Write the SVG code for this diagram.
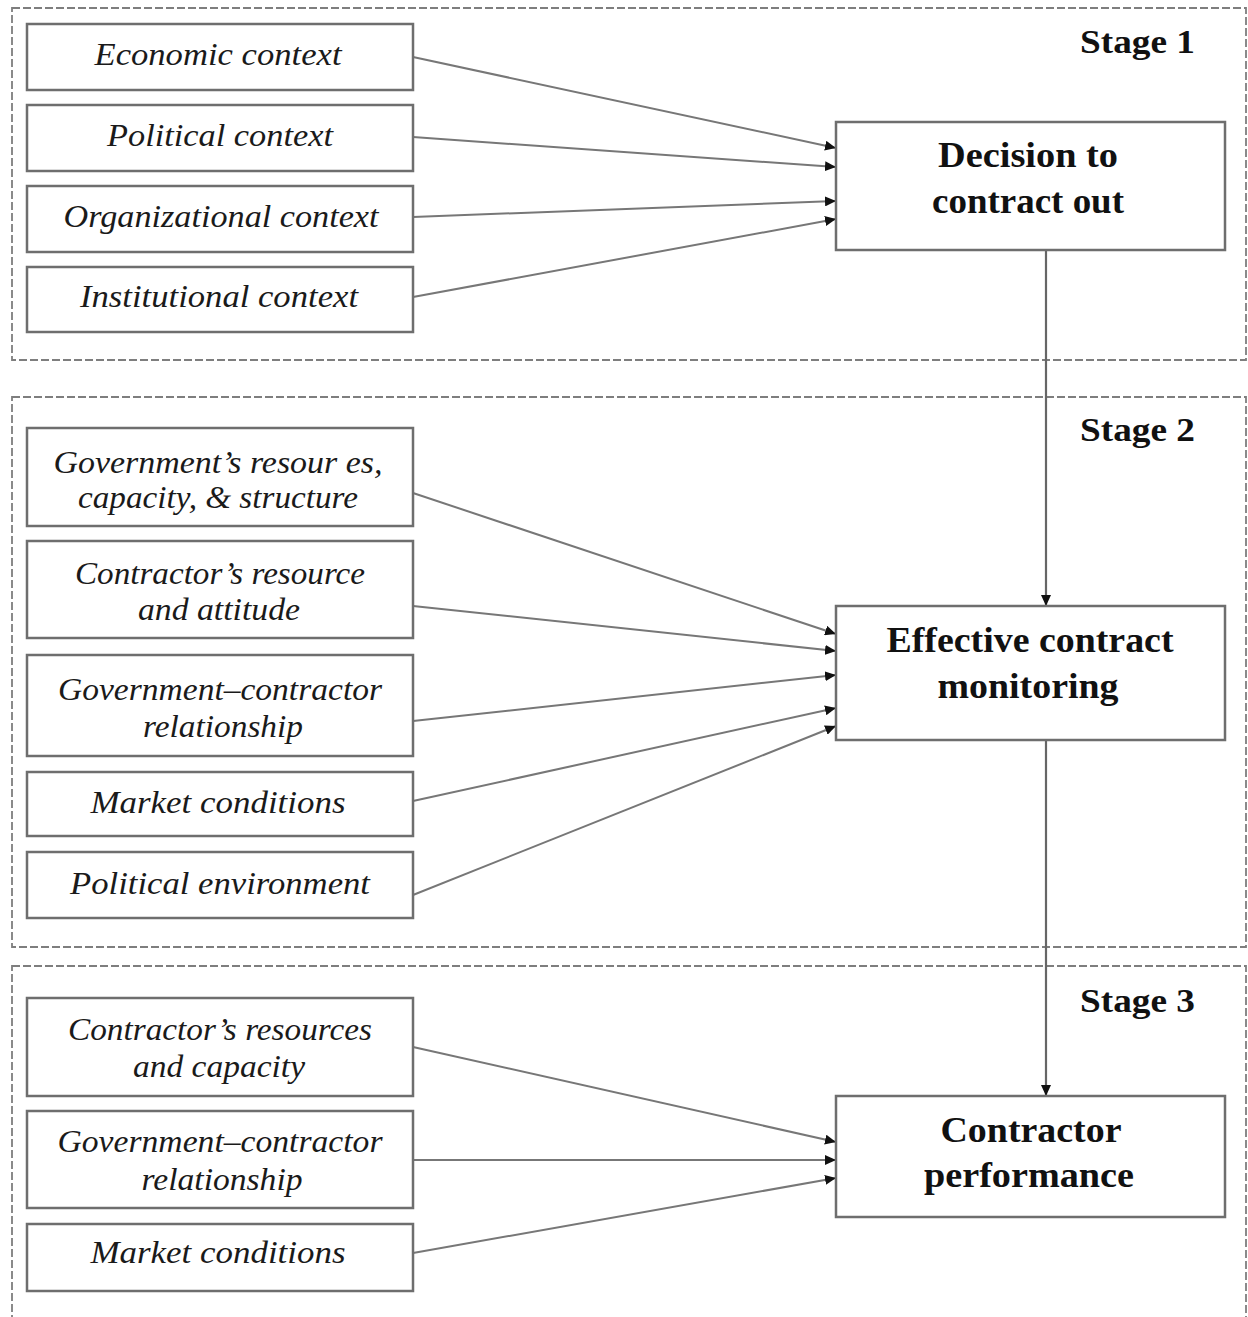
<svg xmlns="http://www.w3.org/2000/svg" width="1248" height="1317" viewBox="0 0 1248 1317">
<style>
.stage{fill:none;stroke:#7e7e7e;stroke-width:1.8;stroke-dasharray:8 3}
.lb{fill:#fff;stroke:#6e6e6e;stroke-width:2.5}
.rb{fill:#fff;stroke:#6e6e6e;stroke-width:2.5}
.it{font-family:"Liberation Serif","Times New Roman",serif;font-style:italic;font-size:32px;fill:#1a1a1a;text-anchor:middle}
.bd{font-family:"Liberation Serif","Times New Roman",serif;font-weight:bold;font-size:35px;fill:#111;text-anchor:middle}
.st{font-family:"Liberation Serif","Times New Roman",serif;font-weight:bold;font-size:34px;fill:#111}
.cn{fill:none;stroke:#777;stroke-width:2}
.vt{fill:none;stroke:#666;stroke-width:2.2}
</style>
<defs>
<marker id="ah" markerUnits="userSpaceOnUse" markerWidth="11" markerHeight="10" refX="11" refY="5" orient="auto">
<path d="M0,0 L11,5 L0,10 z" fill="#111"/>
</marker>
</defs>
<rect width="1248" height="1317" fill="#fff"/>

<g id="stages">
<rect class="stage" x="12" y="8" width="1234" height="352"/>
<rect class="stage" x="12" y="397" width="1234" height="550"/>
<rect class="stage" x="12" y="966" width="1234" height="380"/>
<text class="st" x="1080" y="53" textLength="115" lengthAdjust="spacingAndGlyphs">Stage 1</text>
<text class="st" x="1080" y="441" textLength="115" lengthAdjust="spacingAndGlyphs">Stage 2</text>
<text class="st" x="1080" y="1012" textLength="115" lengthAdjust="spacingAndGlyphs">Stage 3</text>
</g>

<g id="connectors">
<line class="cn" x1="413" y1="57" x2="836" y2="148" marker-end="url(#ah)"/>
<line class="cn" x1="413" y1="137" x2="836" y2="167" marker-end="url(#ah)"/>
<line class="cn" x1="413" y1="217" x2="836" y2="201" marker-end="url(#ah)"/>
<line class="cn" x1="413" y1="297" x2="836" y2="219" marker-end="url(#ah)"/>
<line class="cn" x1="413" y1="493" x2="836" y2="634" marker-end="url(#ah)"/>
<line class="cn" x1="413" y1="606" x2="836" y2="651" marker-end="url(#ah)"/>
<line class="cn" x1="413" y1="721" x2="836" y2="675" marker-end="url(#ah)"/>
<line class="cn" x1="413" y1="801" x2="836" y2="708" marker-end="url(#ah)"/>
<line class="cn" x1="413" y1="895" x2="836" y2="726" marker-end="url(#ah)"/>
<line class="cn" x1="413" y1="1047" x2="836" y2="1142" marker-end="url(#ah)"/>
<line class="cn" x1="413" y1="1160" x2="836" y2="1160" marker-end="url(#ah)"/>
<line class="cn" x1="413" y1="1253" x2="836" y2="1178" marker-end="url(#ah)"/>
<line class="vt" x1="1046" y1="250" x2="1046" y2="606" marker-end="url(#ah)"/>
<line class="vt" x1="1046" y1="740" x2="1046" y2="1096" marker-end="url(#ah)"/>
</g>

<g id="economic-context">
<rect class="lb" x="27" y="24" width="386" height="66"/>
<text class="it" x="218" y="65" textLength="247" lengthAdjust="spacingAndGlyphs">Economic  context</text>
</g>
<g id="political-context">
<rect class="lb" x="27" y="105" width="386" height="66"/>
<text class="it" x="220" y="146" textLength="226" lengthAdjust="spacingAndGlyphs">Political  context</text>
</g>
<g id="organizational-context">
<rect class="lb" x="27" y="186" width="386" height="66"/>
<text class="it" x="221" y="227" textLength="315" lengthAdjust="spacingAndGlyphs">Organizational  context</text>
</g>
<g id="institutional-context">
<rect class="lb" x="27" y="267" width="386" height="65"/>
<text class="it" x="219" y="307" textLength="278" lengthAdjust="spacingAndGlyphs">Institutional  context</text>
</g>

<g id="decision">
<rect class="rb" x="836" y="122" width="389" height="128"/>
<text class="bd" x="1028" y="167" textLength="180" lengthAdjust="spacingAndGlyphs">Decision to</text>
<text class="bd" x="1028" y="213" textLength="192" lengthAdjust="spacingAndGlyphs">contract out</text>
</g>

<g id="gov-resources">
<rect class="lb" x="27" y="428" width="386" height="98"/>
<text class="it" x="218" y="473" textLength="329" lengthAdjust="spacingAndGlyphs">Government’s resour es,</text>
<text class="it" x="218" y="508" textLength="280" lengthAdjust="spacingAndGlyphs">capacity, &amp; structure</text>
</g>
<g id="contractor-resource">
<rect class="lb" x="27" y="541" width="386" height="97"/>
<text class="it" x="220" y="584" textLength="290" lengthAdjust="spacingAndGlyphs">Contractor’s resource</text>
<text class="it" x="219" y="620" textLength="162" lengthAdjust="spacingAndGlyphs">and attitude</text>
</g>
<g id="gov-contractor-2">
<rect class="lb" x="27" y="655" width="386" height="101"/>
<text class="it" x="220" y="700" textLength="324" lengthAdjust="spacingAndGlyphs">Government–contractor</text>
<text class="it" x="223" y="737" textLength="160" lengthAdjust="spacingAndGlyphs">relationship</text>
</g>
<g id="market-2">
<rect class="lb" x="27" y="772" width="386" height="64"/>
<text class="it" x="218" y="813" textLength="255" lengthAdjust="spacingAndGlyphs">Market  conditions</text>
</g>
<g id="political-environment">
<rect class="lb" x="27" y="852" width="386" height="66"/>
<text class="it" x="220" y="894" textLength="300" lengthAdjust="spacingAndGlyphs">Political  environment</text>
</g>

<g id="monitoring">
<rect class="rb" x="836" y="606" width="389" height="134"/>
<text class="bd" x="1030" y="652" textLength="287" lengthAdjust="spacingAndGlyphs">Effective contract</text>
<text class="bd" x="1028" y="698" textLength="181" lengthAdjust="spacingAndGlyphs">monitoring</text>
</g>

<g id="contractor-resources">
<rect class="lb" x="27" y="998" width="386" height="98"/>
<text class="it" x="220" y="1040" textLength="304" lengthAdjust="spacingAndGlyphs">Contractor’s resources</text>
<text class="it" x="219" y="1077" textLength="172" lengthAdjust="spacingAndGlyphs">and capacity</text>
</g>
<g id="gov-contractor-3">
<rect class="lb" x="27" y="1111" width="386" height="97"/>
<text class="it" x="220" y="1152" textLength="325" lengthAdjust="spacingAndGlyphs">Government–contractor</text>
<text class="it" x="222" y="1190" textLength="161" lengthAdjust="spacingAndGlyphs">relationship</text>
</g>
<g id="market-3">
<rect class="lb" x="27" y="1224" width="386" height="67"/>
<text class="it" x="218" y="1263" textLength="255" lengthAdjust="spacingAndGlyphs">Market  conditions</text>
</g>

<g id="performance">
<rect class="rb" x="836" y="1096" width="389" height="121"/>
<text class="bd" x="1031" y="1142" textLength="181" lengthAdjust="spacingAndGlyphs">Contractor</text>
<text class="bd" x="1029" y="1187" textLength="210" lengthAdjust="spacingAndGlyphs">performance</text>
</g>
</svg>
